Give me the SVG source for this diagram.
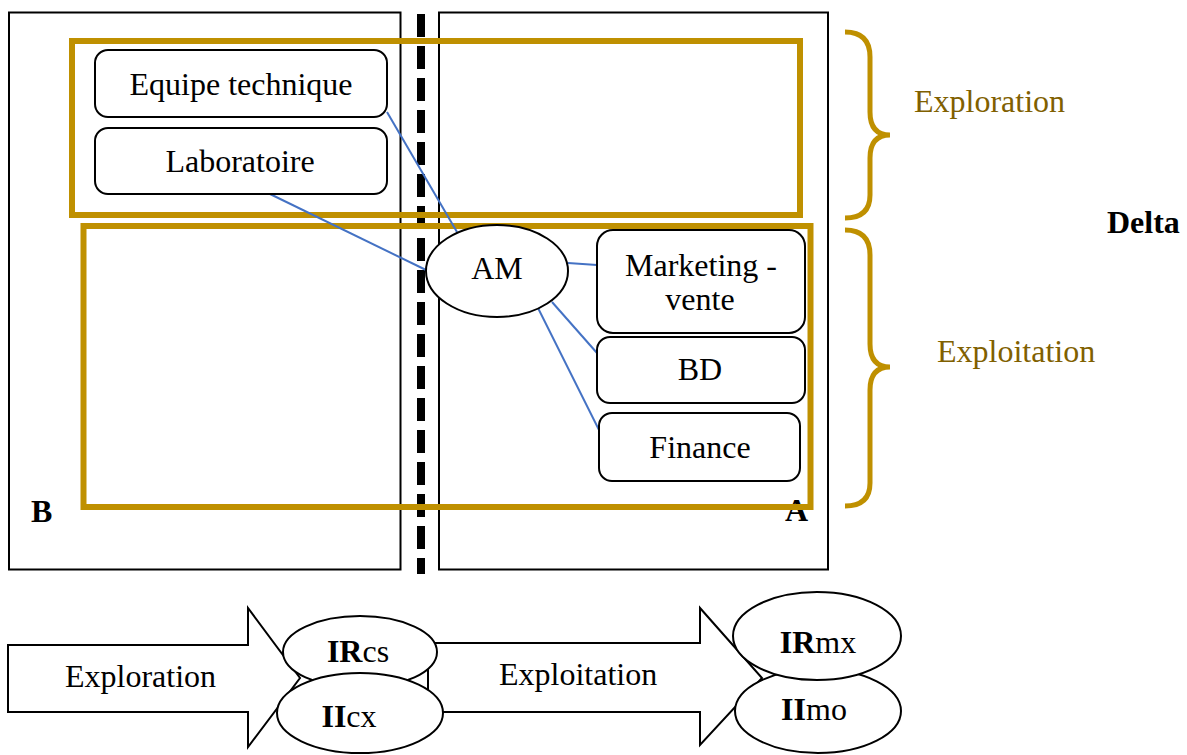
<svg xmlns="http://www.w3.org/2000/svg" width="1187" height="755" viewBox="0 0 1187 755">
<style>
text{font-family:"Liberation Serif","Times New Roman",serif;font-size:32px;fill:#000}
.panel{fill:none;stroke:#000;stroke-width:2}
.gold{fill:none;stroke:#BF9000;stroke-width:6}
.node{fill:#fff;stroke:#000;stroke-width:2}
.conn{stroke:#4472C4;stroke-width:2;fill:none}
.brace{fill:none;stroke:#BF9000;stroke-width:5}
.gt{fill:#806000}
.b{font-weight:bold}
.m{text-anchor:middle}
.arrow{fill:#fff;stroke:#000;stroke-width:2}
</style>
<rect width="1187" height="755" fill="#fff"/>
<g id="panels">
<rect class="panel" x="9" y="12.5" width="391.5" height="557"/>
<rect class="panel" x="439" y="12.5" width="389" height="557"/>
<line x1="421" y1="14" x2="421" y2="574" stroke="#000" stroke-width="8" stroke-dasharray="23 9"/>
<text class="b" x="31" y="522">B</text>
<text class="b" x="785" y="521">A</text>
</g>
<g id="zones">
<rect class="gold" x="72" y="41" width="728" height="174"/>
<rect class="gold" x="83.5" y="226" width="727" height="281"/>
</g>
<g id="connectors">
<line class="conn" x1="387" y1="112" x2="457" y2="232"/>
<line class="conn" x1="270" y1="194" x2="426" y2="270"/>
<line class="conn" x1="568" y1="263" x2="597" y2="265"/>
<line class="conn" x1="552" y1="302" x2="597" y2="353"/>
<line class="conn" x1="538" y1="308" x2="599" y2="430"/>
</g>
<g id="equipe-technique">
<rect class="node" x="95" y="50" width="292" height="67" rx="13"/>
<text class="m" x="241" y="95">Equipe technique</text>
</g>
<g id="laboratoire">
<rect class="node" x="95" y="128" width="292" height="66" rx="13"/>
<text class="m" x="240" y="172">Laboratoire</text>
</g>
<g id="am">
<ellipse class="node" cx="497" cy="271" rx="71" ry="46"/>
<text class="m" x="497" y="279">AM</text>
</g>
<g id="marketing-vente">
<rect class="node" x="597" y="230" width="208" height="103" rx="16"/>
<text class="m" x="701" y="276">Marketing -</text>
<text class="m" x="700" y="310">vente</text>
</g>
<g id="bd">
<rect class="node" x="597" y="337" width="208" height="66" rx="13"/>
<text class="m" x="700" y="380">BD</text>
</g>
<g id="finance">
<rect class="node" x="599" y="413" width="201" height="68" rx="13"/>
<text class="m" x="700" y="458">Finance</text>
</g>
<g id="braces">
<path class="brace" d="M845,32 Q870,32 870,57 L870,112 Q870,135 890,135 Q870,135 870,158 L870,195 Q870,218 845,218"/>
<path class="brace" d="M845,230 Q870,230 870,255 L870,344 Q870,367 890,367 Q870,367 870,390 L870,483 Q870,506 845,506"/>
<text class="gt" x="914" y="112">Exploration</text>
<text class="gt" x="937" y="362">Exploitation</text>
<text class="b" x="1107" y="233">Delta</text>
</g>
<g id="exploitation-arrow">
<polygon class="arrow" points="428,643 700,643 700,608 762,678 700,745 700,712 428,712"/>
<text x="499" y="685">Exploitation</text>
</g>
<g id="exploration-arrow">
<polygon class="arrow" points="8,645 248,645 248,608 300,678 248,747 248,712 8,712"/>
<text x="65" y="687">Exploration</text>
</g>
<g id="ircs">
<ellipse class="node" cx="360" cy="652" rx="77" ry="36"/>
<text class="m" x="358" y="662"><tspan class="b">IR</tspan>cs</text>
</g>
<g id="iicx">
<ellipse class="node" cx="360" cy="713" rx="83" ry="40"/>
<text class="m" x="349" y="727"><tspan class="b">II</tspan>cx</text>
</g>
<g id="iimo">
<ellipse class="node" cx="818" cy="711" rx="83" ry="42"/>
<text class="m" x="814" y="720"><tspan class="b">II</tspan>mo</text>
</g>
<g id="irmx">
<ellipse class="node" cx="817" cy="636" rx="84" ry="44"/>
<text class="m" x="818" y="653"><tspan class="b">IR</tspan>mx</text>
</g>
</svg>
